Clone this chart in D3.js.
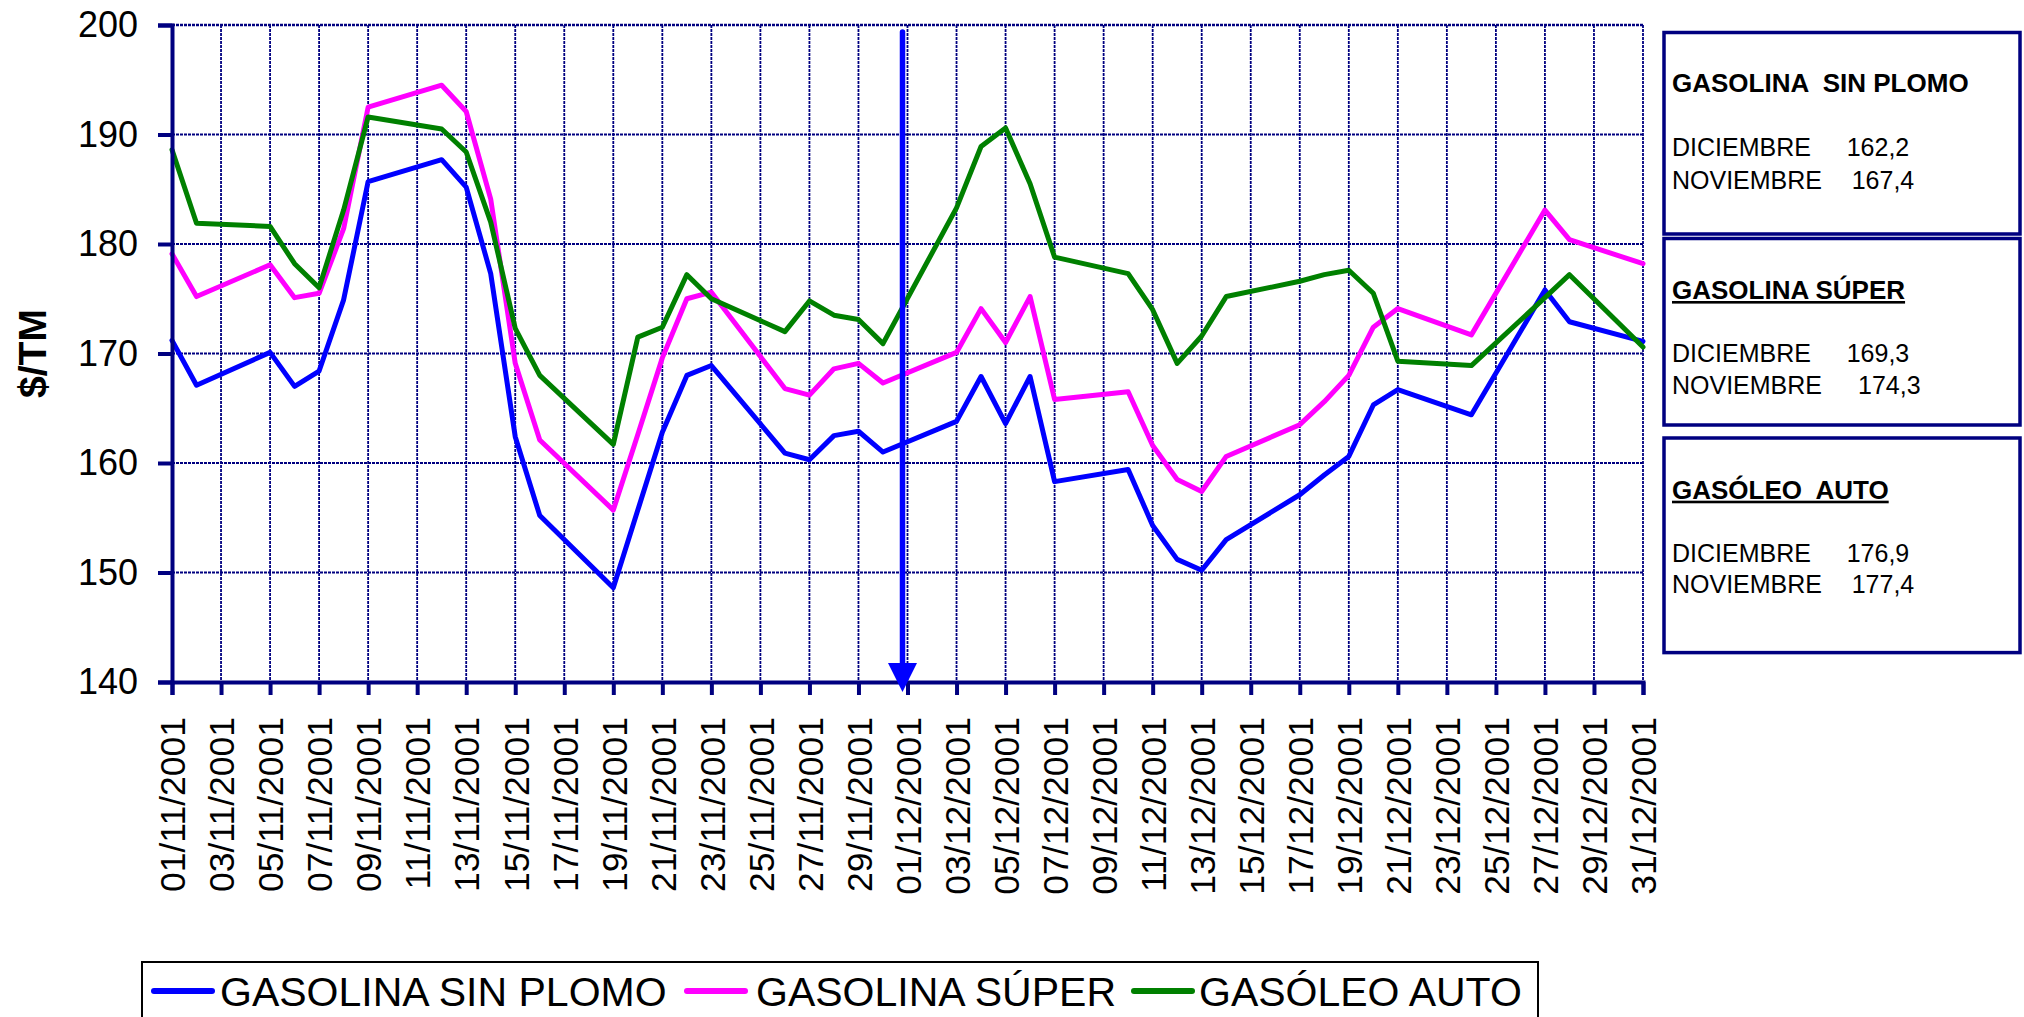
<!DOCTYPE html>
<html>
<head>
<meta charset="utf-8">
<script src="https://cdn.jsdelivr.net/npm/d3@7"></script>
<style>
  html, body { margin: 0; padding: 0; background: #fff; }
  svg { display: block; font-family: "Liberation Sans", Arial, sans-serif; }
  text { white-space: pre; }
</style>
</head>
<body>
<svg id="chart" width="2024" height="1017"></svg>
<script>
// ---------------- DATA ----------------
const dates = [
  "01/11/2001","02/11/2001","05/11/2001","06/11/2001","07/11/2001","08/11/2001","09/11/2001",
  "12/11/2001","13/11/2001","14/11/2001","15/11/2001","16/11/2001",
  "19/11/2001","20/11/2001","21/11/2001","22/11/2001","23/11/2001",
  "26/11/2001","27/11/2001","28/11/2001","29/11/2001","30/11/2001",
  "03/12/2001","04/12/2001","05/12/2001","06/12/2001","07/12/2001",
  "10/12/2001","11/12/2001","12/12/2001","13/12/2001","14/12/2001",
  "17/12/2001","18/12/2001","19/12/2001","20/12/2001","21/12/2001",
  "24/12/2001","27/12/2001","28/12/2001","31/12/2001"
];
const sinPlomo = [
  171.2,167.1,170.1,167.0,168.4,174.9,185.7,
  187.7,185.2,177.3,162.4,155.2,
  148.6,155.7,162.8,168.0,168.9,
  160.9,160.3,162.5,162.9,161.0,
  163.8,167.9,163.6,167.9,158.3,
  159.4,154.3,151.2,150.2,153.0,
  157.1,158.9,160.6,165.3,166.7,
  164.4,175.8,172.9,171.1
];
const super_ = [
  179.1,175.2,178.1,175.1,175.5,181.4,192.5,
  194.5,192.1,184.1,169.1,162.1,
  155.7,162.6,169.6,175.0,175.6,
  166.8,166.2,168.6,169.1,167.3,
  170.1,174.1,171.0,175.2,165.8,
  166.5,161.6,158.5,157.4,160.6,
  163.5,165.6,168.0,172.4,174.1,
  171.7,183.1,180.4,178.2
];
const gasoleo = [
  188.6,181.9,181.6,178.2,176.0,183.1,191.6,
  190.5,188.4,182.0,172.3,168.0,
  161.7,171.5,172.4,177.2,175.0,
  172.0,174.8,173.5,173.1,170.9,
  183.3,188.9,190.6,185.5,178.8,
  177.3,174.0,169.1,171.6,175.2,
  176.6,177.2,177.6,175.5,169.3,
  168.9,175.1,177.2,170.6
];
const seriesNames = ["GASOLINA SIN PLOMO", "GASOLINA SÚPER", "GASÓLEO AUTO"];
const seriesColors = ["#0000FF", "#FF00FF", "#008000"];
const tickLabels = [
  "01/11/2001","03/11/2001","05/11/2001","07/11/2001","09/11/2001","11/11/2001","13/11/2001",
  "15/11/2001","17/11/2001","19/11/2001","21/11/2001","23/11/2001","25/11/2001","27/11/2001",
  "29/11/2001","01/12/2001","03/12/2001","05/12/2001","07/12/2001","09/12/2001","11/12/2001",
  "13/12/2001","15/12/2001","17/12/2001","19/12/2001","21/12/2001","23/12/2001","25/12/2001",
  "27/12/2001","29/12/2001","31/12/2001"
];
const yTicks = [140, 150, 160, 170, 180, 190, 200];
const yTitle = "$/TM";
const arrowDate = "01/12/2001";
const boxTitles = ["GASOLINA  SIN PLOMO", "GASOLINA SÚPER", "GASÓLEO  AUTO"];
const boxMonths = ["DICIEMBRE", "NOVIEMBRE"];
const boxDic = ["162,2", "169,3", "176,9"];
const boxNov = ["167,4", "174,3", "177,4"];

// ---------------- CHART ----------------
const parse = d3.timeParse("%d/%m/%Y");
const navy = "#000080";
const svg = d3.select("#chart");
svg.append("rect").attr("width", 2024).attr("height", 1017).attr("fill", "#fff");

const plot = { left: 172, right: 1643, top: 25, bottom: 682 };
const x = d3.scaleTime()
  .domain([parse(tickLabels[0]), parse(tickLabels[tickLabels.length - 1])])
  .range([plot.left, plot.right]);
const y = d3.scaleLinear().domain([140, 200]).range([plot.bottom, plot.top]);

const tickDates = tickLabels.map(parse);

// gridlines
const grid = svg.append("g");
grid.selectAll("line.h").data(yTicks.slice(1)).join("line")
  .attr("x1", plot.left).attr("x2", plot.right)
  .attr("y1", d => y(d)).attr("y2", d => y(d))
  .attr("stroke", navy).attr("stroke-width", d => d === 200 ? 2.4 : 1.8).attr("stroke-dasharray", "3,1");
grid.selectAll("line.v").data(tickDates.slice(1)).join("line")
  .attr("x1", d => x(d)).attr("x2", d => x(d))
  .attr("y1", plot.top).attr("y2", plot.bottom)
  .attr("stroke", navy).attr("stroke-width", 1.8).attr("stroke-dasharray", "3,1");

// series
const allSeries = [sinPlomo, super_, gasoleo];
const pts = dates.map(parse);
const line = d3.line().x((d, i) => x(pts[i])).y(d => y(d));
allSeries.forEach((vals, k) => {
  svg.append("path").datum(vals)
    .attr("d", line)
    .attr("fill", "none")
    .attr("stroke", seriesColors[k])
    .attr("stroke-width", 5)
    .attr("stroke-linejoin", "round")
    .attr("stroke-linecap", "round");
});

// Y axis
const yAxis = svg.append("g").attr("transform", `translate(${plot.left},0)`)
  .call(d3.axisLeft(y).tickValues(yTicks).tickSize(14).tickPadding(20).tickFormat(d3.format("d")));
yAxis.select(".domain").attr("stroke", navy).attr("stroke-width", 4);
yAxis.selectAll(".tick line").attr("stroke", navy).attr("stroke-width", 4);
yAxis.selectAll(".tick text").attr("font-size", 36).attr("fill", "#000")
  .attr("font-family", "'Liberation Sans', Arial, sans-serif");

// X axis
const xAxis = svg.append("g").attr("transform", `translate(0,${plot.bottom})`)
  .call(d3.axisBottom(x).tickValues(tickDates).tickSize(13).tickFormat((d, i) => tickLabels[i]));
xAxis.select(".domain").attr("stroke", navy).attr("stroke-width", 4);
xAxis.selectAll(".tick line").attr("stroke", navy).attr("stroke-width", 4);
xAxis.selectAll(".tick text")
  .attr("font-size", 35.5).attr("fill", "#000")
  .attr("font-family", "'Liberation Sans', Arial, sans-serif")
  .attr("text-anchor", "end")
  .attr("transform", "rotate(-90)")
  .attr("x", -35).attr("y", 0).attr("dy", "0.36em");

// Y title
svg.append("text")
  .attr("transform", `translate(46,${(plot.top + plot.bottom) / 2}) rotate(-90)`)
  .attr("text-anchor", "middle")
  .attr("font-size", 39).attr("font-weight", "bold")
  .text(yTitle);

// Arrow marking December start
const ax = x(parse(arrowDate)) - 5;
svg.append("line")
  .attr("x1", ax).attr("x2", ax).attr("y1", 32).attr("y2", 668)
  .attr("stroke", "#0000FF").attr("stroke-width", 5.5).attr("stroke-linecap", "round");
svg.append("path")
  .attr("d", `M${ax - 14.5},663 L${ax + 14.5},663 L${ax},692 Z`)
  .attr("fill", "#0000FF");

// Legend
const legend = svg.append("g");
legend.append("rect").attr("x", 142).attr("y", 962).attr("width", 1396).attr("height", 90)
  .attr("fill", "#fff").attr("stroke", "#000").attr("stroke-width", 2);
const legLineX = [154, 687, 1134];
const legTextX = [220, 756, 1199];
seriesNames.forEach((name, k) => {
  legend.append("line")
    .attr("x1", legLineX[k]).attr("x2", legLineX[k] + 58)
    .attr("y1", 991).attr("y2", 991)
    .attr("stroke", seriesColors[k]).attr("stroke-width", 6).attr("stroke-linecap", "round");
  legend.append("text")
    .attr("x", legTextX[k]).attr("y", 1006)
    .attr("font-size", 41).attr("fill", "#000")
    .text(name);
});

// Info boxes
const boxes = [
  { y0: 32.5, y1: 234, title: 92, l1: 156, l2: 188.6, v2x: 1851.7, underline: false },
  { y0: 238.5, y1: 425, title: 299, l1: 362, l2: 393.8, v2x: 1858, underline: true },
  { y0: 438, y1: 652.6, title: 498.7, l1: 561.6, l2: 593, v2x: 1851.7, underline: true }
];
boxes.forEach((b, k) => {
  const g = svg.append("g");
  g.append("rect").attr("x", 1664).attr("y", b.y0).attr("width", 356).attr("height", b.y1 - b.y0)
    .attr("fill", "#fff").attr("stroke", navy).attr("stroke-width", 3.5);
  g.append("text").attr("x", 1672).attr("y", b.title)
    .attr("font-size", 26).attr("font-weight", "bold")
    .attr("text-decoration", b.underline ? "underline" : "none")
    .text(boxTitles[k]);
  g.append("text").attr("x", 1672).attr("y", b.l1).attr("font-size", 25).text(boxMonths[0]);
  g.append("text").attr("x", 1846.7).attr("y", b.l1).attr("font-size", 25).text(boxDic[k]);
  g.append("text").attr("x", 1672).attr("y", b.l2).attr("font-size", 25).text(boxMonths[1]);
  g.append("text").attr("x", b.v2x).attr("y", b.l2).attr("font-size", 25).text(boxNov[k]);
});
</script>
</body>
</html>
